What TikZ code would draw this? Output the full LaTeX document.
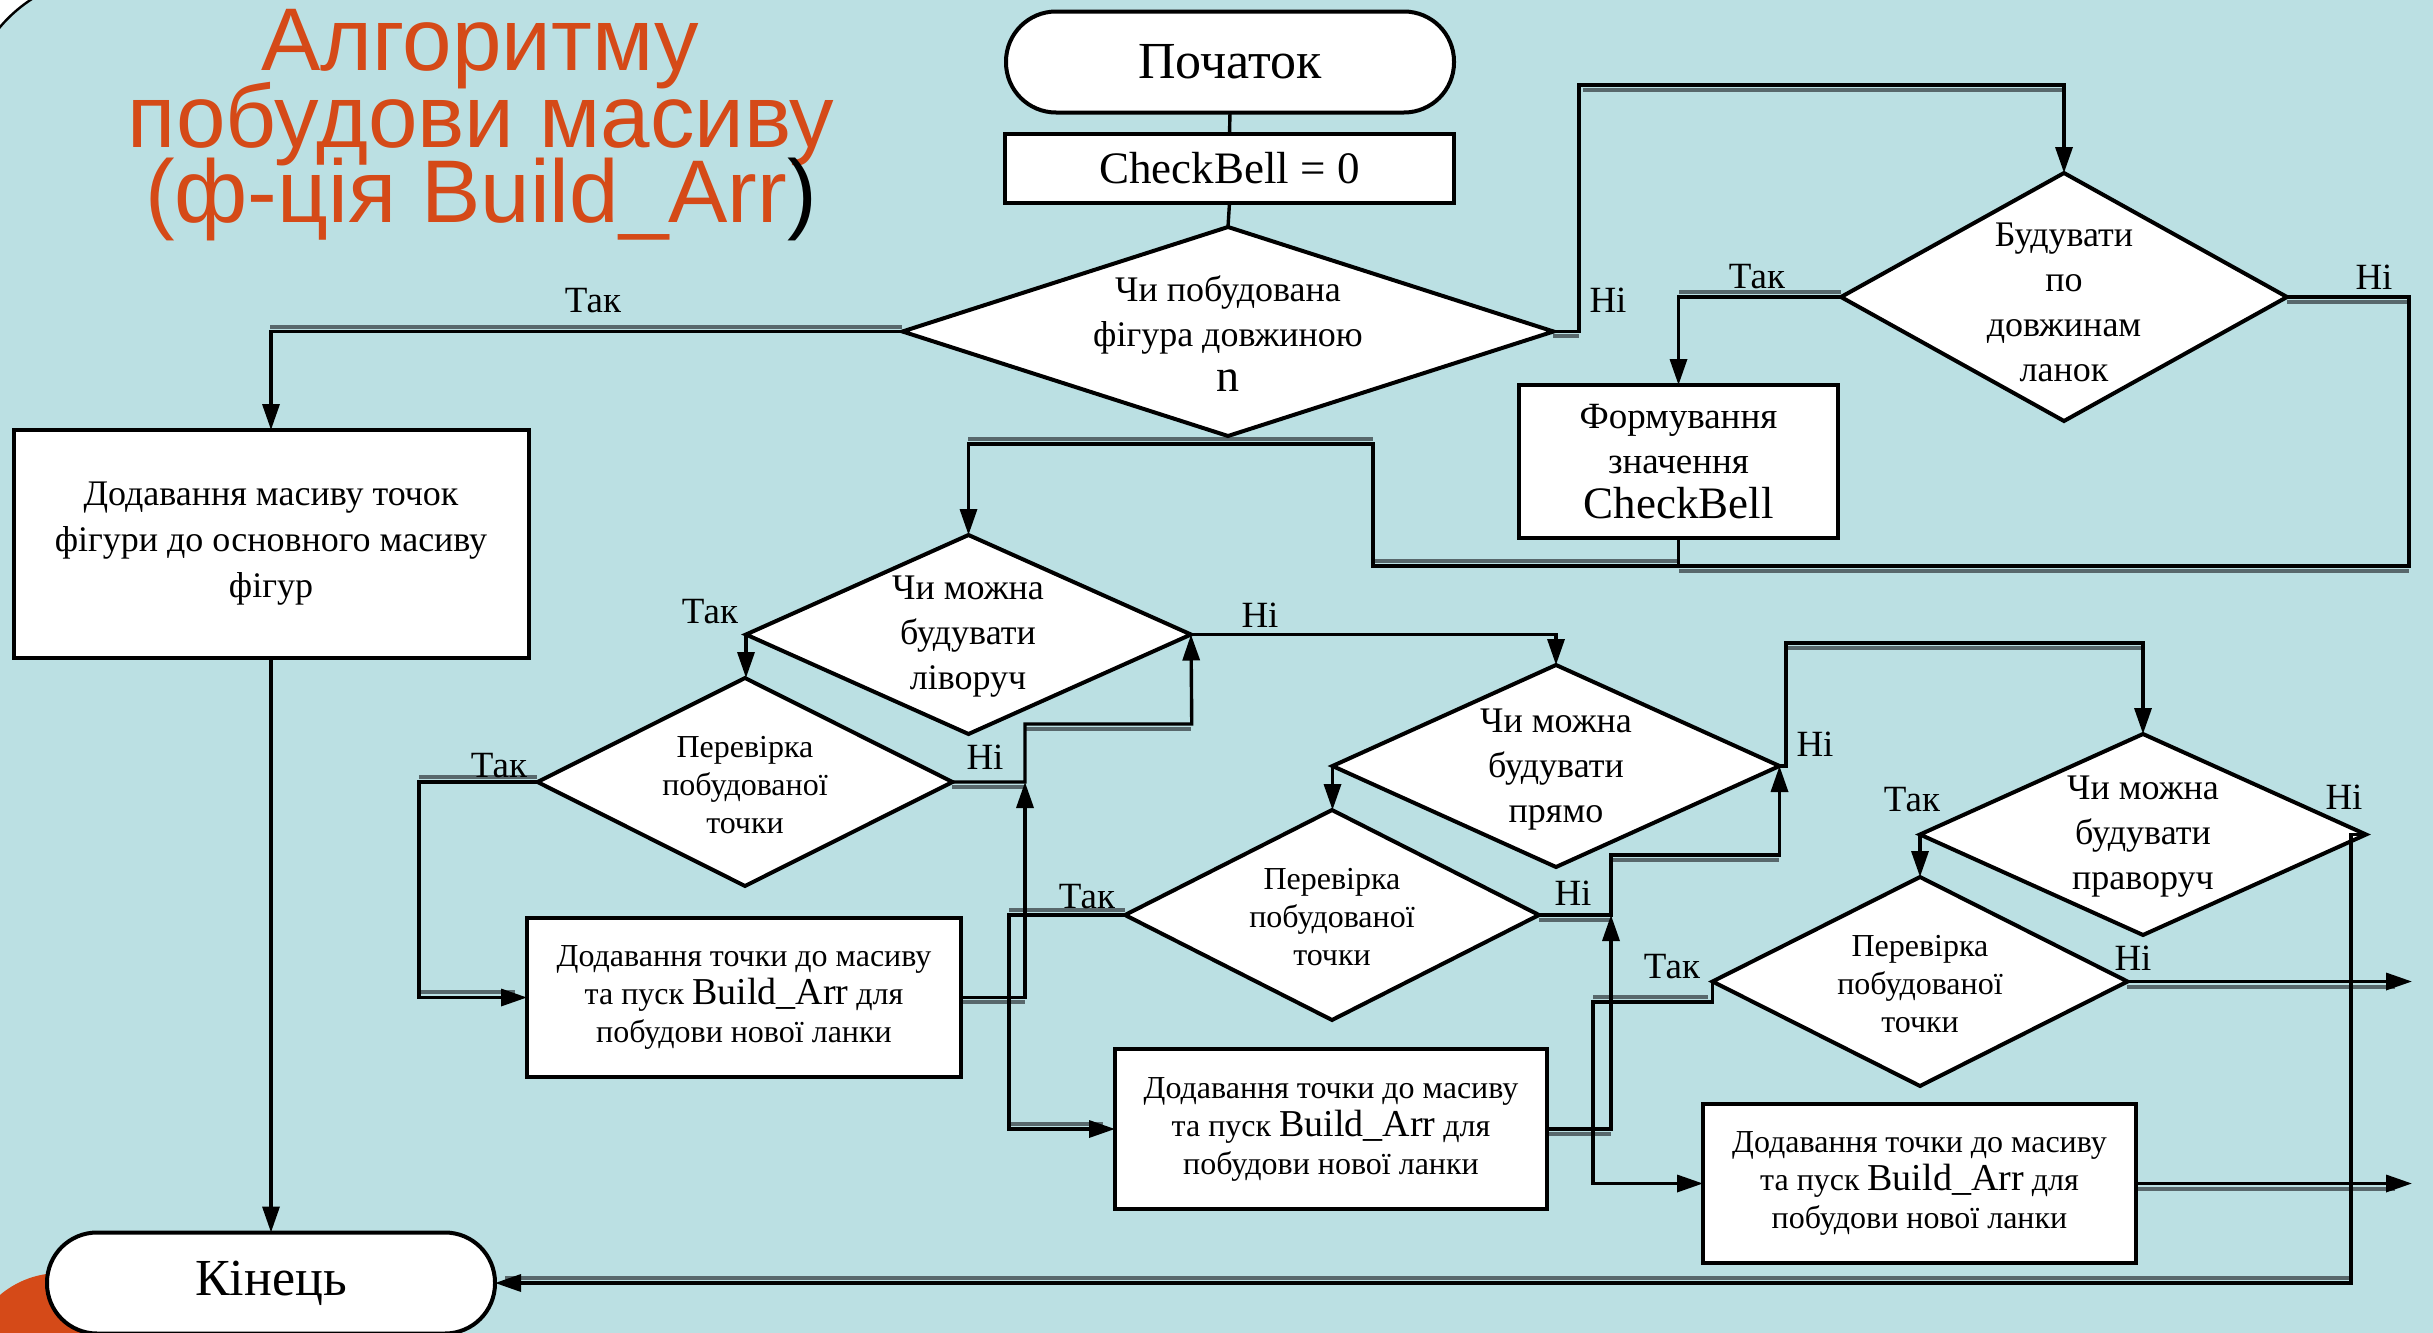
\documentclass[tikz,border=0pt]{standalone}
\usepackage{fontspec}
\setmainfont{Liberation Serif}
\newfontfamily\titlefont{Liberation Sans}
\usetikzlibrary{arrows.meta,shapes.geometric}
\definecolor{bgc}{RGB}{187,224,227}
\definecolor{orng}{RGB}{213,74,24}
\definecolor{shgray}{RGB}{88,104,108}
\begin{document}
\begin{tikzpicture}[x=0.5pt,y=-0.5pt,
  base/.style={draw, line width=2pt, fill=white, inner sep=0pt, outer sep=0pt},
  term/.style={base, rounded corners=25pt, minimum width=224pt, minimum height=50.5pt, font=\fontsize{26}{30}\selectfont},
  proc/.style={base, rectangle, align=center},
  dia/.style={base, shape=diamond},
  bigtxt/.style={align=center, inner sep=0pt, font=\fontsize{18}{22.5}\selectfont},
  smalltxt/.style={align=center, inner sep=0pt, font=\fontsize{16}{19}\selectfont},
  lbl/.style={inner sep=0pt, font=\fontsize{18.5}{20}\selectfont},
  ln/.style={line width=1.7pt},
  arr/.style={ln, -{Triangle[width=8.5pt,length=13pt]}},
  shd/.style={draw=shgray, line width=2pt},
  ttl/.style={text=orng, inner sep=0pt, font=\titlefont\fontsize{44.5}{44}\selectfont, anchor=base}]
\useasboundingbox (0,0) rectangle (2433,1333);
\clip (0,0) rectangle (2433,1333);
\fill[bgc] (0,0) rectangle (2433,1333);
% slide corner
\begin{scope}
  \clip (0,0) rectangle (70,70);
  \fill[white] (0,0) rectangle (70,70);
  \fill[bgc] (110,120) circle[radius=72pt];
  \draw[line width=1.2pt] (110,120) circle[radius=72pt];
\end{scope}
\fill[orng] (60,1366) circle[radius=46.5pt];

% title
\node[ttl] (t1) at (480,70) {Алгоритму};
\node[ttl] (t2) at (481,147) {побудови масиву};
\node[ttl] (t3) at (481,222) {(ф-ція Build\_Arr\textcolor{black}{)}};

% shadows (drawn under connectors)
\draw[shd] (270,327) -- (902,327);
\draw[shd] (1553,336) -- (1579,336);
\draw[shd] (1583,90) -- (2064,90);
\draw[shd] (1679,292) -- (1841,292);
\draw[shd] (2287,302) -- (2409,302);
\draw[shd] (968,439) -- (1373,439);
\draw[shd] (1373,561) -- (1679,561);
\draw[shd] (1679,571) -- (2409,571);
\draw[shd] (419,777) -- (537,777);
\draw[shd] (419,992) -- (515,992);
\draw[shd] (952,787) -- (1025,787);
\draw[shd] (1025,729) -- (1191,729);
\draw[shd] (961,1002) -- (1025,1002);
\draw[shd] (1009,910) -- (1125,910);
\draw[shd] (1009,1124) -- (1103,1124);
\draw[shd] (1539,920) -- (1611,920);
\draw[shd] (1611,860) -- (1779,860);
\draw[shd] (1547,1134) -- (1611,1134);
\draw[shd] (1786,648) -- (2143,648);
\draw[shd] (1593,997) -- (1708,997);
\draw[shd] (2127,987) -- (2395,987);
\draw[shd] (2136,1189) -- (2395,1189);
\draw[shd] (505,1278) -- (2351,1278);

% shapes
\node[term] (start) at (1230,62) {Початок};
\node[proc, minimum width=224.5pt, minimum height=34.5pt, font=\fontsize{22.5}{24}\selectfont] (init) at (1229.5,168.5) {CheckBell = 0};
\node[dia, minimum width=325.5pt, minimum height=104.5pt] (d1) at (1228,331.5) {};
\node[dia, minimum width=223pt, minimum height=124pt] (d2) at (2064,297) {};
\node[proc, minimum width=159.5pt, minimum height=76.5pt, font=\fontsize{18.5}{22.5}\selectfont] (form) at (1678.5,461.5) {Формування\\значення\\{\fontsize{22.5}{22.5}\selectfont CheckBell}};
\node[proc, minimum width=257.5pt, minimum height=114pt, font=\fontsize{18}{23}\selectfont] (lbox) at (271,544) {Додавання масиву точок\\фігури до основного масиву\\фігур};
\node[dia, minimum width=222.5pt, minimum height=99.5pt] (d3) at (968.5,634.5) {};
\node[dia, minimum width=207.5pt, minimum height=104pt] (d4) at (745,782) {};
\node[proc, minimum width=217pt, minimum height=79.5pt, font=\fontsize{16}{19}\selectfont] (box5) at (744,997.5) {Додавання точки до масиву\\та пуск {\fontsize{19}{19}\selectfont Build\_Arr} для\\побудови нової ланки};
\node[dia, minimum width=223.5pt, minimum height=101pt] (d6) at (1556,766) {};
\node[dia, minimum width=207pt, minimum height=105pt] (d7) at (1332,915) {};
\node[proc, minimum width=216pt, minimum height=80pt, font=\fontsize{16}{19}\selectfont] (box8) at (1331,1129) {Додавання точки до масиву\\та пуск {\fontsize{19}{19}\selectfont Build\_Arr} для\\побудови нової ланки};
\node[dia, minimum width=223pt, minimum height=100.5pt] (d9) at (2143,834.5) {};
\node[dia, minimum width=207.5pt, minimum height=104.5pt] (d10) at (1920,981.5) {};
\node[proc, minimum width=216.5pt, minimum height=79.5pt, font=\fontsize{16}{19}\selectfont] (box11) at (1919.5,1183.5) {Додавання точки до масиву\\та пуск {\fontsize{19}{19}\selectfont Build\_Arr} для\\побудови нової ланки};
\node[term] (end) at (271,1283) {Кінець};

% diamond texts
\node[bigtxt] (d1t) at (1228,334) {Чи побудована\\фігура довжиною\\{\fontsize{23}{22.5}\selectfont n}};
\node[bigtxt] (d2t) at (2064,302) {Будувати\\по\\довжинам\\ланок};
\node[bigtxt] (d3t) at (968,637) {Чи можна\\будувати\\ліворуч};
\node[smalltxt] (d4t) at (745,785) {Перевірка\\побудованої\\точки};
\node[bigtxt] (d6t) at (1556,770) {Чи можна\\будувати\\прямо};
\node[smalltxt] (d7t) at (1332,917) {Перевірка\\побудованої\\точки};
\node[bigtxt] (d9t) at (2143,837) {Чи можна\\будувати\\праворуч};
\node[smalltxt] (d10t) at (1920,984) {Перевірка\\побудованої\\точки};

% bend points
\coordinate (n1) at (1579,85);
\coordinate (n2) at (2409,566);
\coordinate (n3) at (1373,566);
\coordinate (n4) at (968.5,444);
\coordinate (n5) at (419,997.5);
\coordinate (n6) at (1025,782);
\coordinate (n7) at (1191.75,724);
\coordinate (n8) at (1786,643);
\coordinate (n9) at (1009,1129);
\coordinate (n10) at (1611,915);
\coordinate (n11) at (1779.5,855);
\coordinate (n12) at (2351,834.5);
\coordinate (n13) at (1712.5,1002);
\coordinate (n14) at (1593,1183.5);
\coordinate (o1) at (2412,981.5);
\coordinate (o2) at (2412,1183.5);

% connectors
\draw[ln] (start.south) -- (init.north);
\draw[ln] (init.south) -- (d1.north);
\draw[arr] (d1.west) -| (lbox.north);
\draw[arr] (d1.east) -| (n1) -| (d2.north);
\draw[arr] (d2.west) -| (form.north);
\draw[ln] (d2.east) -| (n2) -- (form.south |- n2);
\draw[arr] (form.south) |- (n3) |- (n4) -- (d3.north);
\draw[arr] (lbox.south) -- (end.north);
\draw[arr] (d3.west) -- (d3.west |- d4.north);
\draw[arr] (d3.east) -| (d6.north);
\draw[arr] (d4.west) -| (n5) -- (box5.west);
\draw[arr] (d4.east) -- (n6) |- (n7) -- (d3.east);
\draw[arr] (box5.east) -| (n6);
\draw[arr] (d6.west) -- (d6.west |- d7.north);
\draw[arr] (d6.east) -| (n8) -| (d9.north);
\draw[arr] (d7.west) -| (n9) -- (box8.west);
\draw[arr] (d7.east) -- (n10) |- (n11) -- (d6.east);
\draw[arr] (box8.east) -| (n10);
\draw[arr] (d9.west) -- (d9.west |- d10.north);
\draw[arr] (d9.east) -- (n12) |- (end.east);
\draw[arr] (d10.west) -- (n13) -| (n14) -- (box11.west);
\draw[arr] (d10.east) -- (o1);
\draw[arr] (box11.east) -- (o2);

% labels
\node[lbl] (l1) at (593,301) {Так};
\node[lbl] (l2) at (1608,300) {Ні};
\node[lbl] (l3) at (1757,277) {Так};
\node[lbl] (l4) at (2374,277) {Ні};
\node[lbl] (l5) at (710,612) {Так};
\node[lbl] (l6) at (1260,615) {Ні};
\node[lbl] (l7) at (499,766) {Так};
\node[lbl] (l8) at (985,757) {Ні};
\node[lbl] (l9) at (1815,744) {Ні};
\node[lbl] (l10) at (1087,897) {Так};
\node[lbl] (l11) at (1573,893) {Ні};
\node[lbl] (l12) at (1912,800) {Так};
\node[lbl] (l13) at (2344,797) {Ні};
\node[lbl] (l14) at (1672,967) {Так};
\node[lbl] (l15) at (2133,958) {Ні};
\end{tikzpicture}
\end{document}
